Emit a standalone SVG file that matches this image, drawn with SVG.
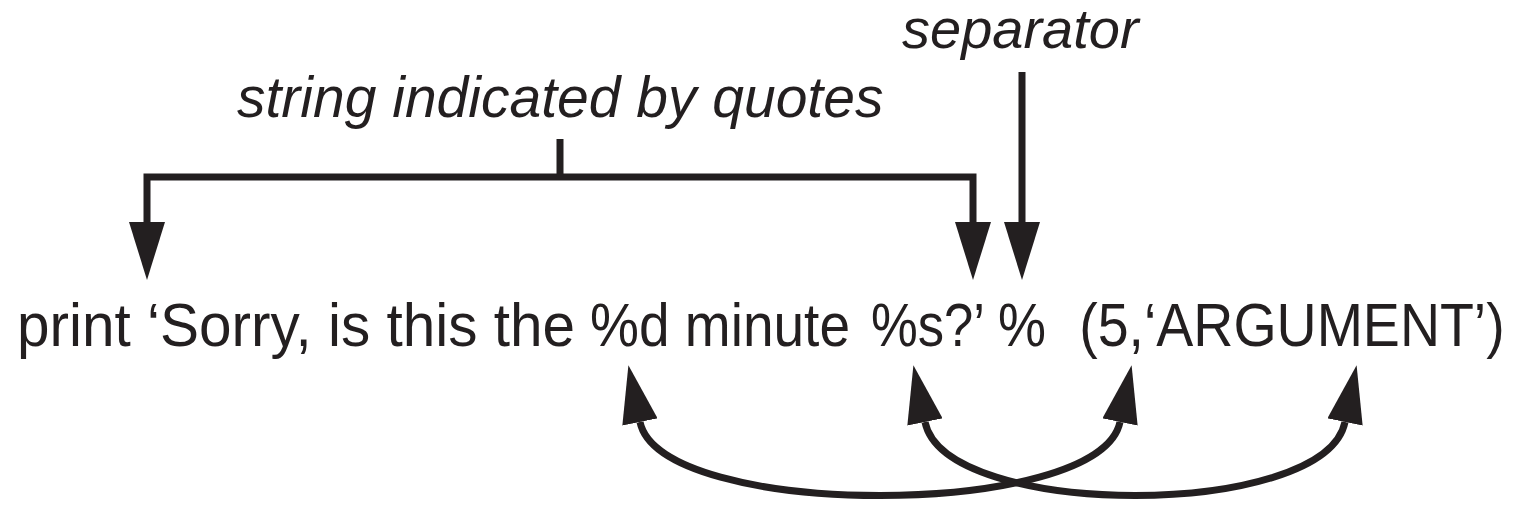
<svg xmlns="http://www.w3.org/2000/svg" width="1522" height="515" viewBox="0 0 1522 515">
<style>
  .ln { fill: none; stroke: #231f20; stroke-width: 7; }
  .main { font-family: "Liberation Sans", Arial, sans-serif; font-size: 61px; fill: #231f20; }
  .lbl { font-family: "Liberation Sans", Arial, sans-serif; font-size: 57px; font-style: italic; fill: #231f20; }
</style>
<defs>
  <marker id="ah" markerUnits="userSpaceOnUse" viewBox="0 0 58 36" refX="0" refY="18" markerWidth="58" markerHeight="36" orient="auto-start-reverse">
    <path d="M0,0 L58,18 L0,36 Z" fill="#231f20"/>
  </marker>
</defs>
<rect width="1522" height="515" fill="#ffffff"/>
<g id="label-string">
  <text class="lbl" x="237" y="117">string indicated by quotes</text>
</g>
<g id="label-separator">
  <text class="lbl" x="902" y="48" style="font-size:56px">separator</text>
</g>
<g id="code">
  <text class="main" y="346"><tspan x="17" textLength="558" lengthAdjust="spacingAndGlyphs">print ‘Sorry, is this the</tspan> <tspan x="590" textLength="260" lengthAdjust="spacingAndGlyphs">%d minute</tspan> <tspan x="871" textLength="112" lengthAdjust="spacingAndGlyphs">%s?’</tspan> <tspan x="998" textLength="48" lengthAdjust="spacingAndGlyphs">%</tspan></text>
  <text class="main" transform="scale(0.91 1)" x="1186" y="346">(5,‘ARGUMENT’)</text>
</g>
<g id="connectors">
  <path class="ln" d="M147,222 V177 H973 V222" marker-start="url(#ah)" marker-end="url(#ah)"/>
  <path class="ln" d="M560,139 V177"/>
  <path class="ln" d="M1022,72 V222" marker-end="url(#ah)"/>
  <path class="ln" d="M640,422 C660,520 1100,520 1120,422" marker-start="url(#ah)" marker-end="url(#ah)"/>
  <path class="ln" d="M925,422 C945,520 1325,520 1345,422" marker-start="url(#ah)" marker-end="url(#ah)"/>
</g>
</svg>
